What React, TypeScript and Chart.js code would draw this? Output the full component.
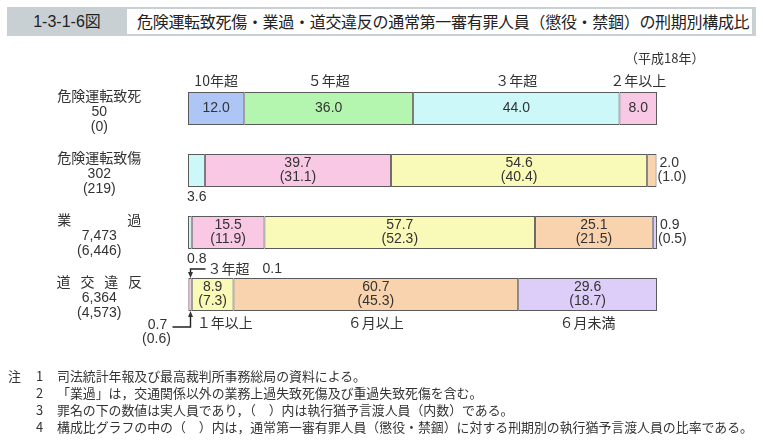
import React, { useEffect, useRef } from 'react';
import { Chart, registerables } from 'chart.js';

Chart.register(...registerables);

const FONT = "'Liberation Sans', 'Noto Sans CJK JP', sans-serif";
const CJK = "'Noto Sans CJK JP', 'Liberation Sans', sans-serif";

// Rows (offences)
const rowNames = [
  '危険運転致死',
  '危険運転致傷',
  '業\u3000\u3000\u3000\u3000過',
  '道\u2002\u2009交\u2002\u2009違\u2002\u2009反',
];
const rowCounts = ['50', '302', '7,473', '6,364'];
const rowSuspended = ['(0)', '(219)', '(6,446)', '(4,573)'];

// Sentence-length categories
const categories = ['10年超', '５年超', '３年超', '２年以上', '１年以上', '６月以上', '６月未満'];
const categoryColors = ['#aec6f6', '#b4f5b0', '#ccf8fa', '#f8c8e4', '#fafab8', '#f9d3ad', '#dccdf9'];

// Composition ratios (%)
const over10y = [12.0, null, null, null];
const over5y = [36.0, null, null, null];
const over3y = [44.0, 3.6, 0.8, 0.1];
const over2y = [8.0, 39.7, 15.5, 0.7];
const over1y = [null, 54.6, 57.7, 8.9];
const over6m = [null, 2.0, 25.1, 60.7];
const under6m = [null, null, 0.9, 29.6];

// Suspended-sentence ratios (%) shown in parentheses
const suspOver10y = [null, null, null, null];
const suspOver5y = [null, null, null, null];
const suspOver3y = [null, null, null, null];
const suspOver2y = [null, 31.1, 11.9, 0.6];
const suspOver1y = [null, 40.4, 52.3, 7.3];
const suspOver6m = [null, 1.0, 21.5, 45.3];
const suspUnder6m = [null, null, 0.5, 18.7];

const seriesValues = [over10y, over5y, over3y, over2y, over1y, over6m, under6m];
const suspValues = [suspOver10y, suspOver5y, suspOver3y, suspOver2y, suspOver1y, suspOver6m, suspUnder6m];

const notes = [
  ['注', '1', '司法統計年報及び最高裁判所事務総局の資料による。'],
  ['', '2', '「業過」は，交通関係以外の業務上過失致死傷及び重過失致死傷を含む。'],
  ['', '3', '罪名の下の数値は実人員であり，（　）内は執行猶予言渡人員（内数）である。'],
  ['', '4', '構成比グラフの中の（　）内は，通常第一審有罪人員（懲役・禁錮）に対する刑期別の執行猶予言渡人員の比率である。'],
];

const TEXT = '#333';

const labelPlugin = {
  id: 'segLabels',
  afterDatasetsDraw(chart: any) {
    const ctx = chart.ctx as CanvasRenderingContext2D;
    const n = chart.data.labels.length;
    ctx.save();
    ctx.fillStyle = TEXT;
    ctx.strokeStyle = '#222';
    ctx.textBaseline = 'middle';
    const txt = (s: string, x: number, y: number, align: CanvasTextAlign = 'center', font = FONT) => {
      ctx.font = `14px ${font}`;
      ctx.textAlign = align;
      ctx.fillText(s, x, y);
    };
    for (let r = 0; r < n; r++) {
      const present: number[] = [];
      seriesValues.forEach((s, i) => { if (s[r] != null) present.push(i); });
      const first = present[0];
      const last = present[present.length - 1];
      let prevSmall = false;
      present.forEach((i) => {
        const el = chart.getDatasetMeta(i).data[r];
        const v = seriesValues[i][r] as number;
        const p = suspValues[i][r];
        const left = Math.min(el.x, el.base);
        const right = Math.max(el.x, el.base);
        const w = right - left;
        const cx = (left + right) / 2;
        const top = el.y - el.height / 2;
        const bottom = el.y + el.height / 2;
        const main = v.toFixed(1);
        const sub = p != null ? `(${(p as number).toFixed(1)})` : null;
        const small = w < 20;
        if (!small) {
          if (sub) {
            txt(main, cx, el.y - 7);
            txt(sub, cx, el.y + 7);
          } else {
            txt(main, cx, el.y);
          }
        } else if (i === last) {
          if (sub) {
            txt(main, right + 3, el.y - 7, 'left');
            txt(sub, right + 1, el.y + 7, 'left');
          } else {
            txt(main, right + 3, el.y, 'left');
          }
        } else if (r === n - 1) {
          const ax = chart.chartArea.left + 2.5;
          ctx.lineWidth = 1.4;
          if (i === first) {
            // arrow from above
            const ly = top - 9;
            ctx.beginPath();
            ctx.moveTo(ax + 15, ly);
            ctx.lineTo(ax, ly);
            ctx.lineTo(ax, top - 5);
            ctx.stroke();
            ctx.beginPath();
            ctx.moveTo(ax - 2.5, top - 6);
            ctx.lineTo(ax + 2.5, top - 6);
            ctx.lineTo(ax, top);
            ctx.closePath();
            ctx.fill();
            txt(categories[i], ax + 17, ly, 'left', CJK);
            txt(main, ax + 72, ly, 'left');
          } else {
            // arrow from below-left
            const ly = bottom + 16;
            ctx.beginPath();
            ctx.moveTo(ax - 18, ly);
            ctx.lineTo(ax, ly);
            ctx.lineTo(ax, bottom + 5);
            ctx.stroke();
            ctx.beginPath();
            ctx.moveTo(ax - 2.5, bottom + 6);
            ctx.lineTo(ax + 2.5, bottom + 6);
            ctx.lineTo(ax, bottom);
            ctx.closePath();
            ctx.fill();
            txt(main, ax - 33, bottom + 14);
            if (sub) txt(sub, ax - 34, bottom + 28);
          }
        } else {
          txt(main, left - 1, bottom + 10, 'left');
        }
        // category names
        if (r === 0) {
          txt(categories[i], cx, top - 11, 'center', CJK);
        } else if (r === n - 1 && !small) {
          if (prevSmall) txt(categories[i], left + 5, bottom + 12, 'left', CJK);
          else txt(categories[i], cx, bottom + 12, 'center', CJK);
        }
        prevSmall = small && r === n - 1;
      });
    }
    ctx.restore();
  },
};

export default function App() {
  const ref = useRef<HTMLCanvasElement>(null);
  useEffect(() => {
    if (!ref.current) return;
    Chart.defaults.font.family = FONT;
    const chart = new Chart(ref.current, {
      type: 'bar',
      data: {
        labels: rowNames.map((nm, i) => [nm, rowCounts[i], rowSuspended[i]]),
        datasets: categories.map((c, i) => ({
          label: c,
          data: seriesValues[i],
          backgroundColor: categoryColors[i],
          borderColor: '#5a5a5a',
          borderWidth: 1,
          borderSkipped: false,
          barPercentage: 0.53,
          categoryPercentage: 1,
        })),
      },
      options: {
        indexAxis: 'y',
        animation: false,
        responsive: false,
        devicePixelRatio: 1,
        layout: { padding: { top: 77.5, bottom: 122.5, left: 0, right: 106 } },
        plugins: { legend: { display: false }, tooltip: { enabled: false } },
        scales: {
          x: { stacked: true, min: 0, max: 100, display: false },
          y: {
            stacked: true,
            grid: { display: false, drawTicks: false },
            border: { display: false },
            ticks: {
              crossAlign: 'center',
              padding: 46,
              labelOffset: 3.5,
              color: TEXT,
              font: { size: 14, family: FONT, lineHeight: 1.07 },
            },
            afterFit: (scale: any) => { scale.width = 188; },
          },
        },
      },
      plugins: [labelPlugin],
    } as any);
    return () => chart.destroy();
  }, []);

  return (
    <div style={{ position: 'absolute', left: 0, top: 0, width: 763, height: 448, background: '#fff', fontFamily: CJK, color: TEXT }}>
      <div style={{ position: 'absolute', left: 7, top: 7, width: 749, height: 29, background: '#c9d0d4' }} />
      <div style={{ position: 'absolute', left: 7, top: 7, width: 120, height: 29, lineHeight: '29px', textAlign: 'center', fontSize: 16, fontFamily: FONT, color: '#222' }}>1-3-1-6図</div>
      <div style={{ position: 'absolute', left: 127, top: 9, width: 625, height: 25, background: '#fff' }} />
      <div style={{ position: 'absolute', left: 137, top: 9, height: 25, lineHeight: '25px', fontSize: 16, letterSpacing: '-0.3px', whiteSpace: 'nowrap', color: '#222' }}>
        危険運転致死傷・業過・道交違反の通常第一審有罪人員（懲役・禁錮）の刑期別構成比
      </div>
      <canvas ref={ref} width={763} height={448} style={{ position: 'absolute', left: 0, top: 0, width: 763, height: 448 }} />
      <div style={{ position: 'absolute', left: 625, top: 49, lineHeight: '18px', fontSize: 13, whiteSpace: 'nowrap' }}>（平成18年）</div>
      {notes.map((ln, k) => (
        <div key={k} style={{ position: 'absolute', left: 0, top: 367 + k * 17, height: 17, lineHeight: '17px', fontSize: 12.9, whiteSpace: 'nowrap', width: 763 }}>
          <span style={{ position: 'absolute', left: 8 }}>{ln[0]}</span>
          <span style={{ position: 'absolute', left: 36 }}>{ln[1]}</span>
          <span style={{ position: 'absolute', left: 57 }}>{ln[2]}</span>
        </div>
      ))}
    </div>
  );
}
